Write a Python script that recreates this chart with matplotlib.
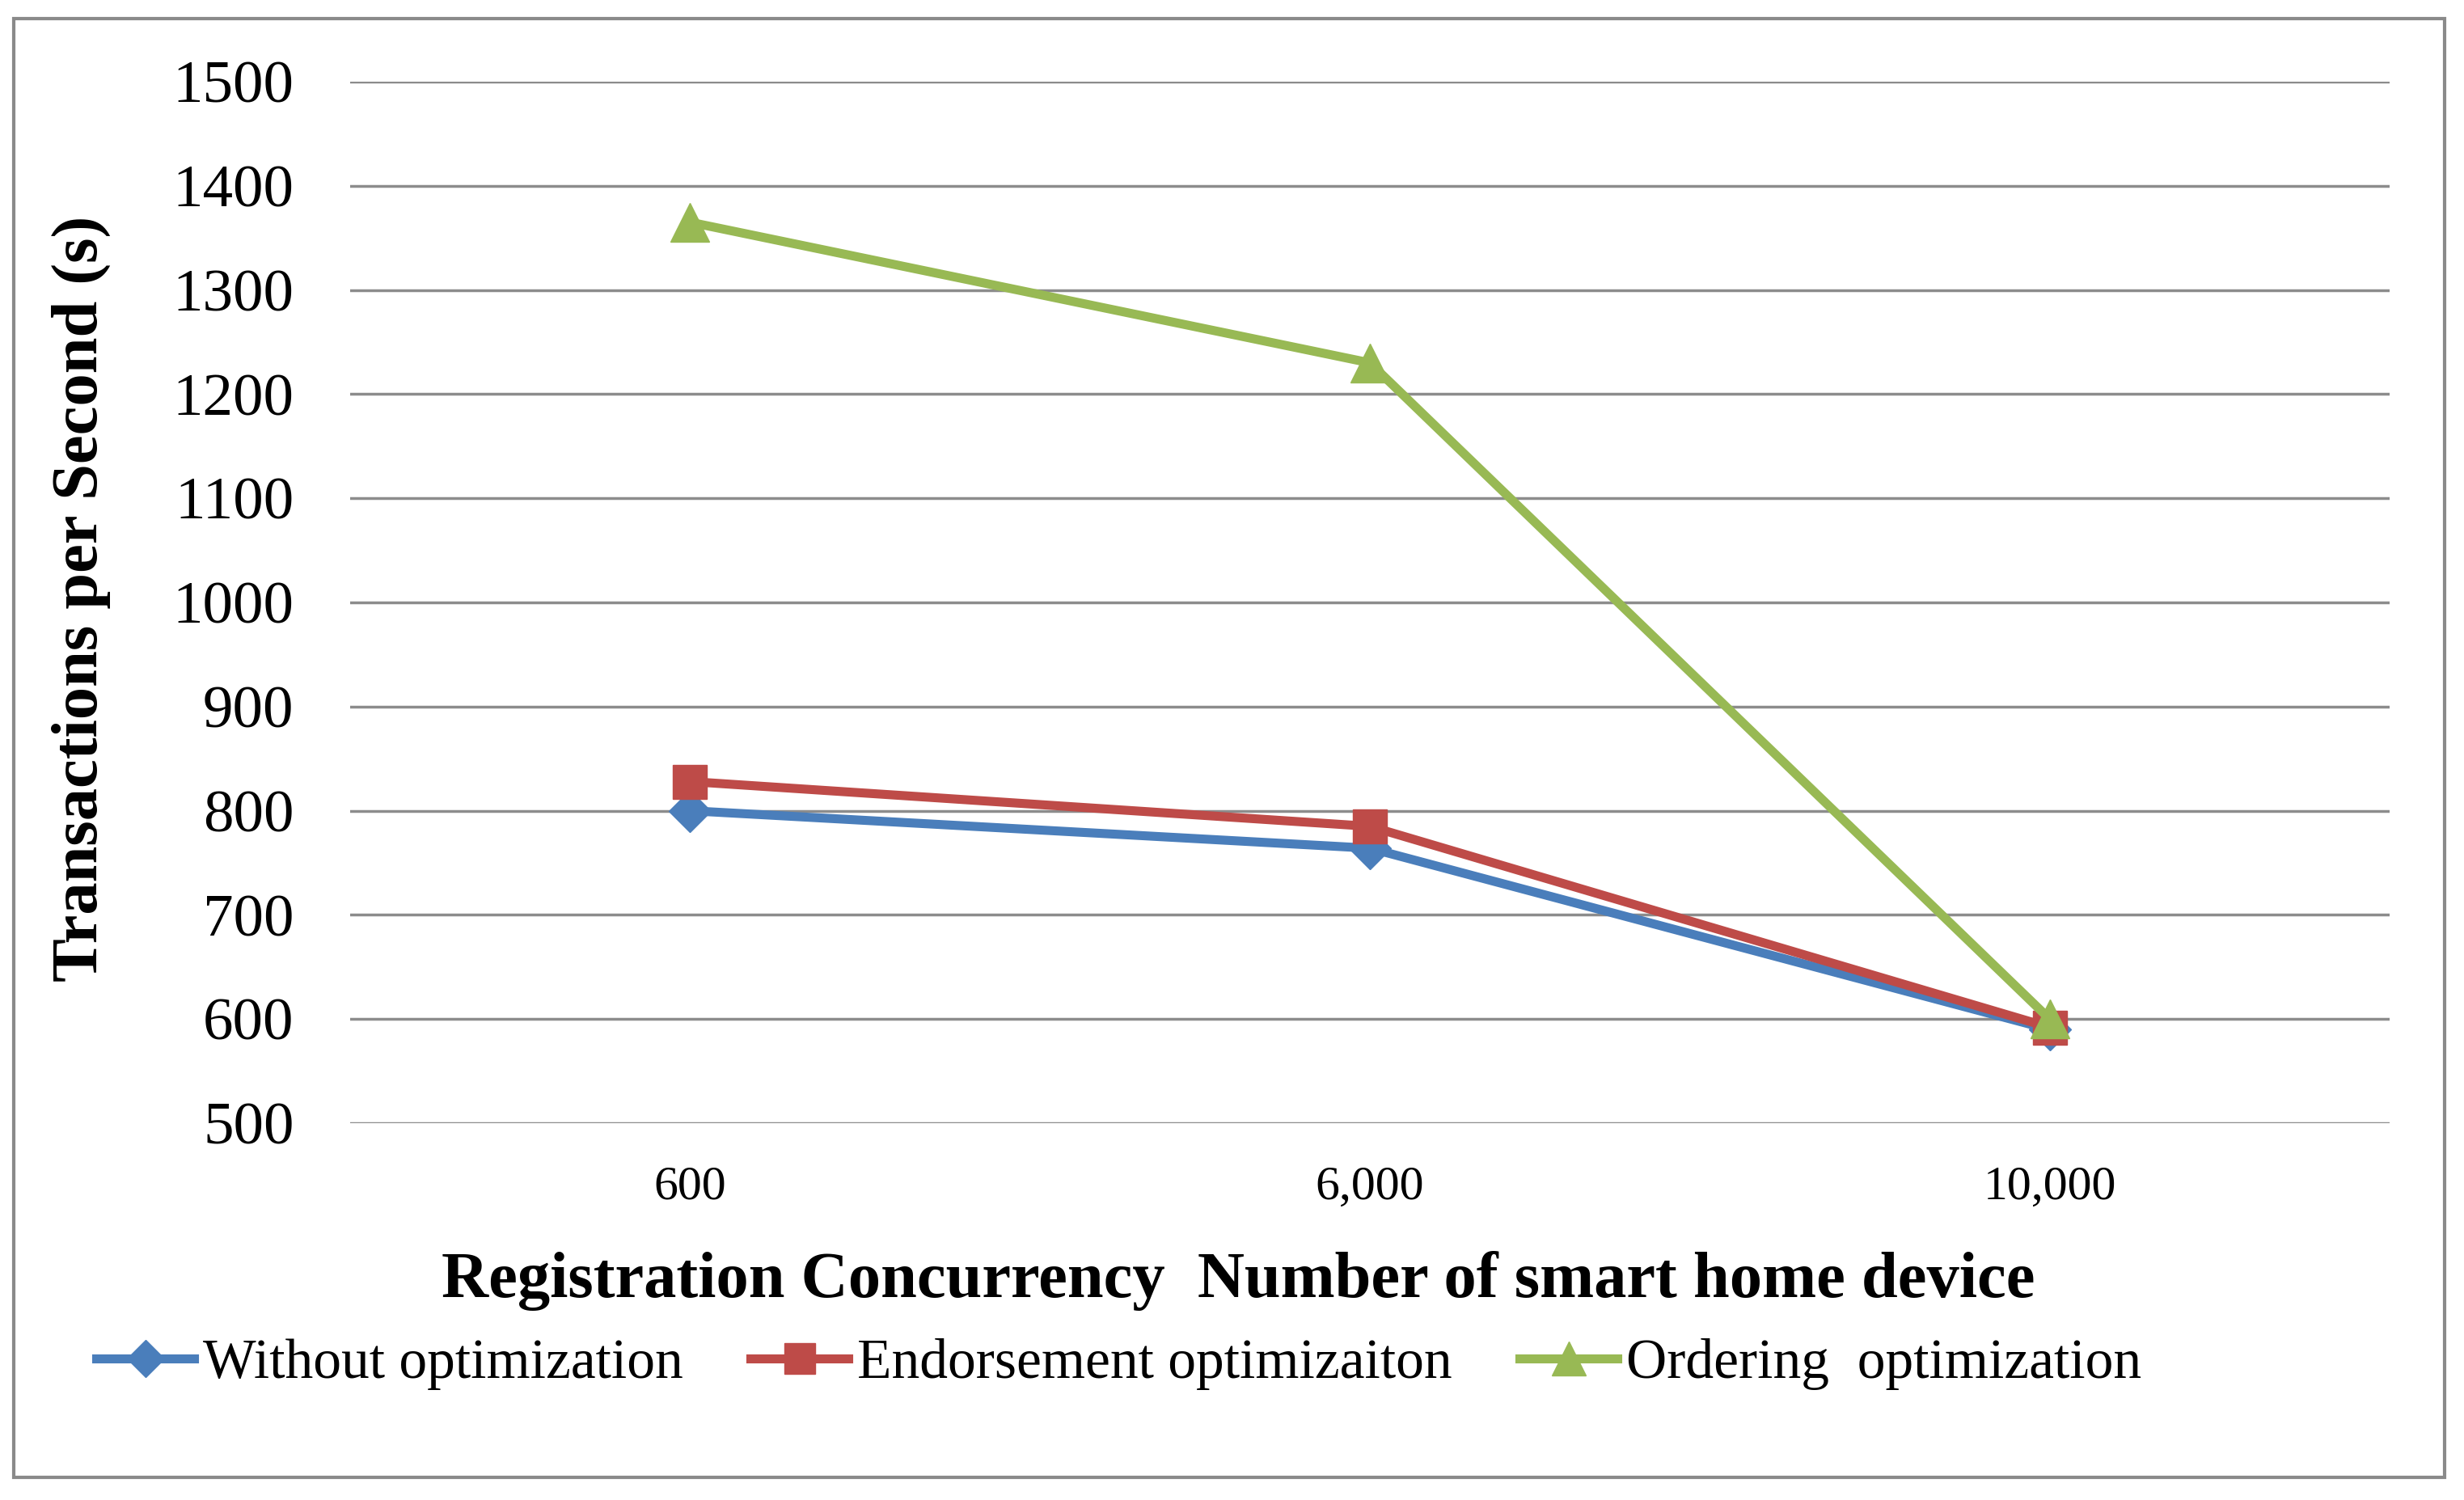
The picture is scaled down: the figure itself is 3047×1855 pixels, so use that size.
import matplotlib.pyplot as plt
from matplotlib.patches import Rectangle

# Data
categories = ['600', '6,000', '10,000']
without_opt = [800, 764, 590]
endorsement_opt = [828, 785, 592]
ordering_opt = [1365, 1230, 600]
yticks = [500, 600, 700, 800, 900, 1000, 1100, 1200, 1300, 1400, 1500]

plt.rcParams['font.family'] = ['Liberation Serif', 'DejaVu Serif']

fig = plt.figure(figsize=(30.47, 18.55), dpi=100)
ax = fig.add_axes([0.1421, 0.2512, 0.8277, 0.6944])

x = range(len(categories))
ax.plot(x, without_opt, color='#4A7EBB', lw=8, marker='D', ms=26,
        label='Without optimization', zorder=3)
ax.plot(x, endorsement_opt, color='#BE4B48', lw=8, marker='s', ms=30,
        label='Endorsement optimizaiton', zorder=4)
ax.plot(x, ordering_opt, color='#98B954', lw=8, marker='^', ms=34,
        label='Ordering  optimization', zorder=5)

ax.set_xlim(-0.5, 2.5)
ax.set_ylim(500, 1500)
ax.set_yticks(yticks)
ax.set_xticks(list(x))
ax.set_xticklabels(categories, fontsize=43)
ax.tick_params(axis='y', labelsize=54, length=0, pad=50)
ax.tick_params(axis='x', length=0, pad=38)
ax.grid(axis='y', color='#8C8C8C', lw=2.5)
ax.set_axisbelow(True)
for s in ax.spines.values():
    s.set_visible(False)

fig.text(0.0331, 0.601, 'Transactions per Second (s)', rotation=90,
         fontsize=58, fontweight='bold', ha='center', va='center')
fig.text(0.5026, 0.146, 'Registration Concurrency  Number of smart home device',
         fontsize=58, fontweight='bold', ha='center', va='center')

fig.legend(loc='center', bbox_to_anchor=(0.454, 0.0906), ncol=3, frameon=False,
           fontsize=50, handlelength=1.75, handletextpad=0.15, columnspacing=1.2,
           markerscale=0.9)

fig.patches.append(Rectangle((17 / 3047, 1 - 1827 / 1855), (3023 - 17) / 3047,
                             (1827 - 23) / 1855, transform=fig.transFigure,
                             fill=False, edgecolor='#8A8A8A', lw=3))

fig.savefig('out.png', dpi=100, facecolor='white')
